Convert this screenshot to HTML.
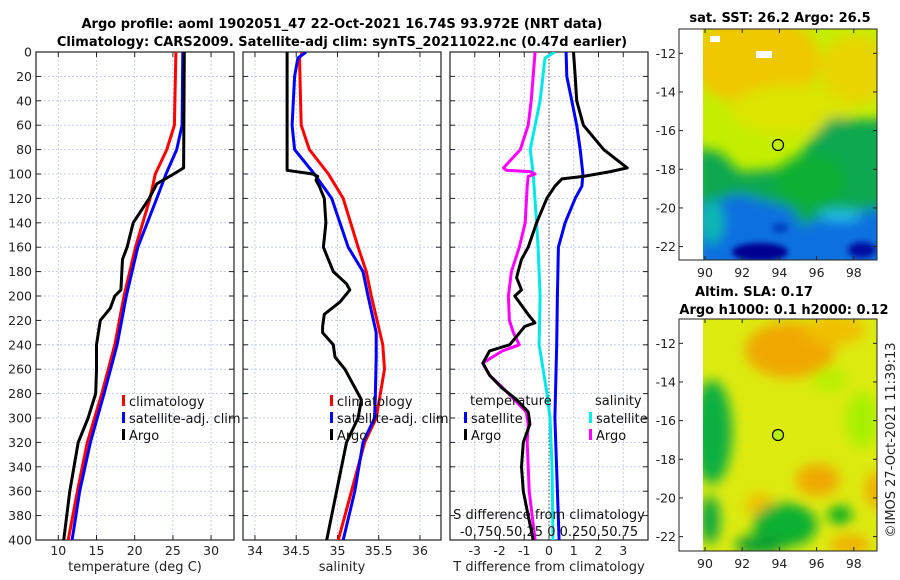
<!DOCTYPE html>
<html><head><meta charset="utf-8">
<style>
body{margin:0;background:#fff;}
svg{display:block;font-family:"DejaVu Sans","Liberation Sans",sans-serif;}
.tk{font-size:12.5px;fill:#222;}
.tt{font-size:13px;font-weight:bold;fill:#000;}
.lg{font-size:13px;fill:#111;}
</style></head>
<body>
<svg id="fig" width="900" height="580" viewBox="0 0 900 580">
<defs>
<filter id="bl" x="-30%" y="-30%" width="160%" height="160%"><feGaussianBlur stdDeviation="6"/></filter>
<filter id="bl2" x="-30%" y="-30%" width="160%" height="160%"><feGaussianBlur stdDeviation="3"/></filter>
<clipPath id="c1"><rect x="703" y="29" width="174" height="231"/></clipPath>
<clipPath id="c2"><rect x="703" y="319" width="174" height="232"/></clipPath>
<clipPath id="p1"><rect x="36" y="52" width="198" height="488"/></clipPath>
<clipPath id="p2"><rect x="243" y="52" width="198" height="488"/></clipPath>
<clipPath id="p3"><rect x="450" y="52" width="198" height="488"/></clipPath>
</defs>
<text class="tt" x="342" y="28" text-anchor="middle">Argo profile: aoml 1902051_47 22-Oct-2021 16.74S 93.972E (NRT data)</text>
<text class="tt" x="342" y="46" text-anchor="middle">Climatology: CARS2009. Satellite-adj clim: synTS_20211022.nc (0.47d earlier)</text>

<g>
<text class="tt" x="780" y="22" text-anchor="middle">sat. SST: 26.2 Argo: 26.5</text>
<g clip-path="url(#c1)">
<rect x="703" y="29" width="174" height="231" fill="#c4ee00"/>
<g filter="url(#bl)">
<ellipse cx="755" cy="60" rx="65" ry="45" fill="#f0c800"/>
<ellipse cx="855" cy="70" rx="35" ry="35" fill="#e8d400"/>
<ellipse cx="790" cy="110" rx="60" ry="25" fill="#dce400"/>
<polygon points="695,148 720,152 740,172 790,168 810,140 830,118 890,120 890,270 695,270" fill="#08a850"/>
<ellipse cx="810" cy="180" rx="35" ry="25" fill="#08b030"/>
<polygon points="695,205 740,194 790,208 802,226 830,214 890,208 890,270 695,270" fill="#1070e0"/>
<ellipse cx="712" cy="222" rx="12" ry="22" fill="#10b8b0"/>
<ellipse cx="840" cy="215" rx="22" ry="6" fill="#20c0e0"/>
</g>
<g filter="url(#bl2)">
<ellipse cx="760" cy="252" rx="28" ry="9" fill="#000090"/>
<ellipse cx="862" cy="250" rx="14" ry="8" fill="#0010a0"/>
<ellipse cx="780" cy="228" rx="8" ry="5" fill="#0040c0"/>
</g>
<rect x="710" y="36" width="10" height="6" fill="#fff"/>
<rect x="756" y="51" width="16" height="7" fill="#fff"/>
</g>
<rect x="679" y="29" width="198" height="231" fill="none" stroke="#222" stroke-width="1"/>
<circle cx="778" cy="145" r="5.5" fill="none" stroke="#000" stroke-width="1.2"/>
<g id="m1ax"></g>
</g>

<g>
<text class="tt" x="754" y="296" text-anchor="middle">Altim. SLA: 0.17</text>
<text class="tt" x="784" y="314" text-anchor="middle">Argo h1000: 0.1 h2000: 0.12</text>
<g clip-path="url(#c2)">
<rect x="703" y="319" width="174" height="232" fill="#dcea10"/>
<g filter="url(#bl)">
<ellipse cx="790" cy="350" rx="45" ry="28" fill="#f0a800"/>
<ellipse cx="835" cy="330" rx="30" ry="15" fill="#f0c000"/>
<ellipse cx="818" cy="480" rx="22" ry="16" fill="#f0a800"/>
<ellipse cx="760" cy="505" rx="14" ry="12" fill="#f0c000"/>
<ellipse cx="850" cy="545" rx="20" ry="10" fill="#f0b000"/>
<ellipse cx="875" cy="490" rx="10" ry="18" fill="#f0b000"/>
<ellipse cx="712" cy="432" rx="20" ry="52" fill="#10b040"/>
<ellipse cx="785" cy="525" rx="32" ry="22" fill="#10b030"/>
<ellipse cx="760" cy="545" rx="25" ry="10" fill="#10a030"/>
<ellipse cx="840" cy="515" rx="12" ry="10" fill="#10b020"/>
<ellipse cx="710" cy="520" rx="10" ry="24" fill="#10a840"/>
<ellipse cx="862" cy="420" rx="16" ry="28" fill="#a8f000"/>
<ellipse cx="830" cy="380" rx="18" ry="12" fill="#b8f000"/>
</g>
</g>
<rect x="679" y="319" width="198" height="232" fill="none" stroke="#222" stroke-width="1"/>
<circle cx="778" cy="435" r="5.5" fill="#b8f000" stroke="#000" stroke-width="1.2"/>
<g id="m2ax"></g>
</g>
<text class="tk" transform="translate(895,440) rotate(-90)" text-anchor="middle" style="font-size:13px">©IMOS 27-Oct-2021 11:39:13</text>

<g id="panels"></g>
</svg>
<script>
const tempClimDepth = [0,60,80,100,120,160,200,240,280,320,360,400];
const tempClim      = [25.4,25.2,24.2,22.7,22.0,20.1,18.6,17.4,15.7,13.8,12.5,11.3];
const tempSatDepth  = [0,60,80,100,120,160,200,240,280,320,360,400];
const tempSat       = [26.3,26.2,25.5,24.1,22.9,20.4,18.9,17.7,16.0,14.2,12.8,11.8];
const tempArgoDepth = [0,95,100,108,120,140,160,170,195,200,210,220,240,260,280,300,320,360,400];
const tempArgo      = [26.5,26.4,25.1,22.9,21.9,19.8,19.0,18.4,18.2,17.4,16.8,15.5,15.0,15.0,14.9,13.9,12.6,11.5,10.7];

const salClimDepth = [0,5,60,80,100,120,160,180,200,240,260,300,320,360,400];
const salClim      = [34.58,34.54,34.56,34.66,34.89,35.07,35.25,35.35,35.41,35.55,35.57,35.47,35.33,35.17,35.01];
const salSatDepth  = [0,5,20,60,80,100,120,160,180,200,230,250,280,300,320,360,400];
const salSat       = [34.62,34.52,34.48,34.45,34.48,34.72,34.93,35.13,35.31,35.37,35.47,35.47,35.46,35.45,35.31,35.21,35.07];
const salArgoDepth = [0,95,97,100,102,105,110,120,140,160,180,190,195,205,215,225,230,240,250,260,275,285,300,320,360,400];
const salArgo      = [34.39,34.39,34.39,34.70,34.76,34.74,34.78,34.84,34.86,34.83,34.95,35.11,35.15,35.03,34.84,34.82,34.82,34.95,34.97,35.09,35.21,35.29,35.25,35.11,34.99,34.87];

const dTSatDepth  = [0,20,40,60,80,100,110,120,140,160,200,240,300,400];
const dTSat       = [0.69,0.72,0.92,1.12,1.26,1.37,1.33,1.06,0.65,0.38,0.34,0.31,0.24,0.41];
const dTArgoDepth = [0,20,40,60,80,95,98,102,104,110,120,140,160,170,180,185,195,200,215,222,225,230,240,245,255,265,275,285,295,305,320,340,360,380,400];
const dTArgo      = [0.99,1.06,1.12,1.39,2.21,3.16,2.48,1.39,0.52,0.24,-0.09,-0.5,-0.84,-1.11,-1.25,-1.31,-1.11,-1.38,-0.85,-0.57,-0.98,-1.18,-1.59,-2.4,-2.67,-2.4,-1.92,-1.31,-0.84,-0.77,-1.04,-1.11,-1.04,-0.84,-0.64];
const dSSatDepth  = [0,5,40,80,100,140,160,200,240,260,280,300,340,400];
const dSSat       = [0.06,-0.04,-0.09,-0.19,-0.16,-0.125,-0.11,-0.09,-0.1,-0.06,-0.02,0.01,0.03,0.04];
const dSArgoDepth = [0,40,60,80,95,97,98,100,102,110,140,160,180,200,220,230,240,245,255,265,275,285,295,305,320,360,400];
const dSArgo      = [-0.14,-0.18,-0.21,-0.29,-0.46,-0.43,-0.19,-0.14,-0.21,-0.22,-0.24,-0.30,-0.38,-0.41,-0.40,-0.36,-0.30,-0.47,-0.67,-0.6,-0.47,-0.35,-0.23,-0.21,-0.22,-0.20,-0.14];

const depthTicks = [0,20,40,60,80,100,120,140,160,180,200,220,240,260,280,300,320,340,360,380,400];
const tempTicks = [10,15,20,25,30];
const salTicks = [34,34.5,35,35.5,36];
const salTickLabels = ['34','34.5','35','35.5','36'];
const dTTicks = [-3,-2,-1,0,1,2,3];
const lonTicks = [90,92,94,96,98];
const latTicks = [-12,-14,-16,-18,-20,-22];

const NS='http://www.w3.org/2000/svg';
const root=document.getElementById('panels');
function mk(tag,attrs,parent){const e=document.createElementNS(NS,tag);for(const k in attrs)e.setAttribute(k,attrs[k]);(parent||root).appendChild(e);return e;}
const Y0=52,Y1=540;
const yD=d=>Y0+d*(Y1-Y0)/400;
function xs(p,lo,hi){return v=>p.x+(v-lo)/(hi-lo)*p.w;}

function panel(name,x,xlo,xhi,ticks,tickLabels,grid,label,showY){
  const p={x:x,w:198};
  const g=mk('g',{});
  
  
  const sx=xs(p,xlo,xhi);
  for(const t of grid){mk('line',{x1:sx(t),x2:sx(t),y1:Y0,y2:Y1,stroke:'#b8c4ec','stroke-width':0.8,'stroke-dasharray':'2,2'},g);}
  for(const d of depthTicks){mk('line',{x1:x,x2:x+198,y1:yD(d),y2:yD(d),stroke:'#b8c4ec','stroke-width':0.8,'stroke-dasharray':'2,2'},g);
    mk('line',{x1:x,x2:x+5,y1:yD(d),y2:yD(d),stroke:'#222'},g);mk('line',{x1:x+193,x2:x+198,y1:yD(d),y2:yD(d),stroke:'#222'},g);
    if(showY){const t=mk('text',{x:x-4,y:yD(d)+4.5,'text-anchor':'end',class:'tk'},g);t.textContent=d;}}
  ticks.forEach((t,i)=>{mk('line',{x1:sx(t),x2:sx(t),y1:Y1,y2:Y1-5,stroke:'#222'},g);mk('line',{x1:sx(t),x2:sx(t),y1:Y0,y2:Y0+5,stroke:'#222'},g);
    const tx=mk('text',{x:sx(t),y:555,'text-anchor':'middle',class:'tk'},g);tx.textContent=tickLabels[i];});
  const lb=mk('text',{x:x+99,y:571,'text-anchor':'middle',class:'tk',style:'font-size:13px'},g);lb.textContent=label;
  mk('rect',{x:x,y:Y0,width:198,height:Y1-Y0,fill:'none',stroke:'#222','stroke-width':1.2},g);
  return {g:g,sx:sx};
}
function line(P,clip,depths,vals,color,nm,sx){
  const pts=depths.map((d,i)=>(sx||P.sx)(vals[i]).toFixed(1)+','+yD(d).toFixed(1)).join(' ');
  const l=mk('polyline',{points:pts,fill:'none',stroke:color,'stroke-width':3,'stroke-linejoin':'round','clip-path':'url(#'+clip+')'},P.g);
  
  
}
function legend(g,x,y,items){items.forEach((it,i)=>{mk('rect',{x:x,y:y+i*17-11,width:3,height:11,fill:it[1]},g);const t=mk('text',{x:x+7,y:y+i*17,class:'lg'},g);t.textContent=it[0];});}

const P1=panel('temperature-panel',36,7.08,33.0,tempTicks,tempTicks.map(String),tempTicks,'temperature (deg C)',true);
line(P1,'p1',tempClimDepth,tempClim,'#ff0000','temp-climatology-line');
line(P1,'p1',tempSatDepth,tempSat,'#0000ff','temp-satellite-line');
line(P1,'p1',tempArgoDepth,tempArgo,'#000000','temp-argo-line');
legend(P1.g,122,406,[['climatology','#f00'],['satellite-adj. clim','#00f'],['Argo','#000']]);

const P2=panel('salinity-panel',243,33.855,36.255,salTicks,salTickLabels,salTicks,'salinity',false);
line(P2,'p2',salClimDepth,salClim,'#ff0000','sal-climatology-line');
line(P2,'p2',salSatDepth,salSat,'#0000ff','sal-satellite-line');
line(P2,'p2',salArgoDepth,salArgo,'#000000','sal-argo-line');
legend(P2.g,330,406,[['climatology','#f00'],['satellite-adj. clim','#00f'],['Argo','#000']]);

const P3=panel('difference-panel',450,-4,4,dTTicks,dTTicks.map(String),dTTicks,'T difference from climatology',false);
const sxS=xs({x:450,w:198},-1,1);
mk('line',{x1:P3.sx(0),x2:P3.sx(0),y1:Y0,y2:Y1,stroke:'#444','stroke-width':1,'stroke-dasharray':'1.5,2'},P3.g);
line(P3,'p3',dSSatDepth,dSSat,'#00e8e8','sal-diff-satellite-line',sxS);
line(P3,'p3',dSArgoDepth,dSArgo,'#ff00ff','sal-diff-argo-line',sxS);
line(P3,'p3',dTSatDepth,dTSat,'#0000ff','temp-diff-satellite-line');
line(P3,'p3',dTArgoDepth,dTArgo,'#000000','temp-diff-argo-line');
{const t=mk('text',{x:470,y:405,class:'lg'},P3.g);t.textContent='temperature';
 const t2=mk('text',{x:595,y:405,class:'lg'},P3.g);t2.textContent='salinity';}
legend(P3.g,464,423,[['satellite','#00f'],['Argo','#000']]);
legend(P3.g,589,423,[['satellite','#0ee'],['Argo','#f0f']]);
{const t=mk('text',{x:549,y:519,'text-anchor':'middle',class:'lg'},P3.g);t.textContent='S difference from climatology';
 const lbl=mk('text',{x:549,y:536,'text-anchor':'middle',class:'lg'},P3.g);lbl.textContent='-0.750.50.25 0 0.250.50.75';}

function mapAx(id,yTop,nm){
  const g=document.getElementById(id);
  
  
  const lx=lon=>705+(lon-90)*18.6, ly=lat=>yTop+(-12-lat)*19.33;
  const bottom = id==='m1ax'?260:551, top = id==='m1ax'?29:319;
  for(const lon of lonTicks){mk('line',{x1:lx(lon),x2:lx(lon),y1:bottom,y2:bottom-4,stroke:'#222'},g);mk('line',{x1:lx(lon),x2:lx(lon),y1:top,y2:top+4,stroke:'#222'},g);
    const t=mk('text',{x:lx(lon),y:bottom+17,'text-anchor':'middle',class:'tk'},g);t.textContent=lon;}
  for(const lat of latTicks){mk('line',{x1:679,x2:683,y1:ly(lat),y2:ly(lat),stroke:'#222'},g);mk('line',{x1:873,x2:877,y1:ly(lat),y2:ly(lat),stroke:'#222'},g);
    const t=mk('text',{x:676,y:ly(lat)+4.5,'text-anchor':'end',class:'tk'},g);t.textContent=lat;}
}
mapAx('m1ax',53.3,'sst-map-axes');
mapAx('m2ax',343.3,'sla-map-axes');
</script>
</body></html>
